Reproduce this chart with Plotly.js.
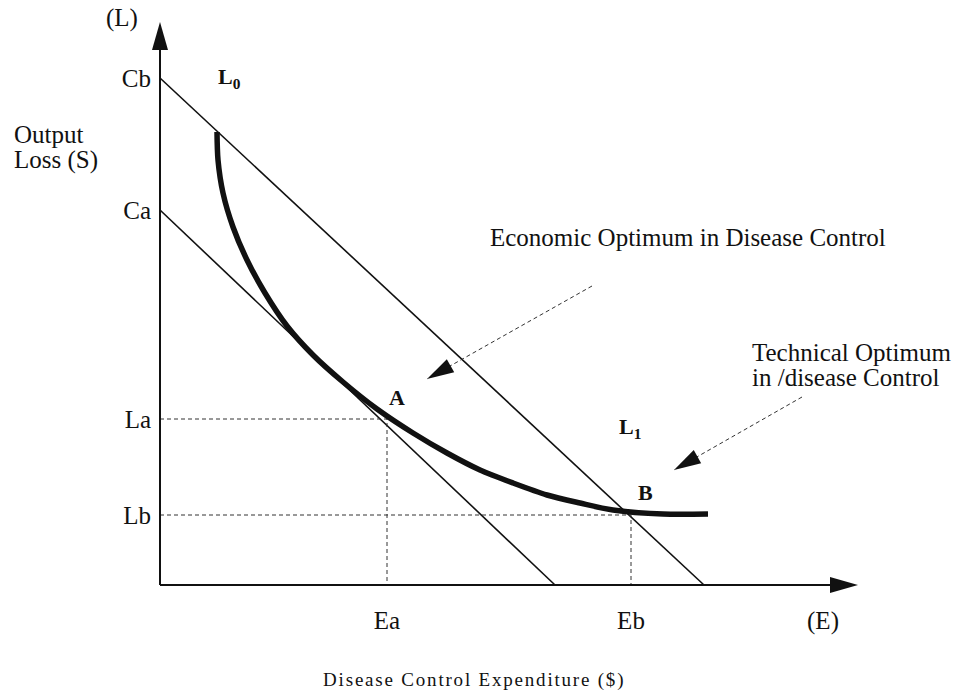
<!DOCTYPE html>
<html>
<head>
<meta charset="utf-8">
<script src="https://cdn.plot.ly/plotly-3.0.1.min.js"></script>
<style>
  html, body { margin: 0; padding: 0; background: #fff; }
  #chart { width: 955px; height: 692px; }
  g.annotation[data-index="10"] text { letter-spacing: 1.8px; }
</style>
</head>
<body>
<div id="chart"></div>
<script>
// ---- Data (E = expenditure, L = output loss) ----
const curveE = [57, 58, 63, 73, 87, 105, 127, 153, 183, 217, 253, 287, 320, 353, 387, 420, 453, 503, 548];
const curveL = [453, 425, 392, 358, 325, 292, 259, 230, 203, 176, 152, 132, 115, 102, 90, 82, 75, 71, 71];

const lineCbE = [0, 544];
const lineCbL = [507, 0];
const lineCaE = [0, 395];
const lineCaL = [375, 0];

const pointA = [227, 166];   // (Ea, La)
const pointB = [471, 70];    // (Eb, Lb)

const yTickVals = [70, 166, 375, 507];
const yTickText = ['Lb', 'La', 'Ca', 'Cb'];
const xTickVals = [227, 471, 663];
const xTickText = ['Ea', 'Eb', '(E)'];

const axisEndE = 698;   // x-axis arrow tip
const axisEndL = 563;   // y-axis arrow tip

const econArrowTail = [432, 299];
const econArrowTip = [267, 206];
const techArrowTail = [642, 188];
const techArrowTip = [514, 115];

// ---- axes ranges ----
const xRange = [-20, 700];
const yRange = [-20, 575];

// ---- helpers ----
function headPath(tail, tip, len, half) {
  const dx = tip[0] - tail[0], dy = tip[1] - tail[1];
  const d = Math.hypot(dx, dy);
  const ux = dx / d, uy = dy / d;
  const bx = tip[0] - ux * len, by = tip[1] - uy * len;
  const px = -uy, py = ux;
  return `M${tip[0]},${tip[1]} L${bx + px * half},${by + py * half} L${bx - px * half},${by - py * half} Z`;
}
const toPX = v => (v - xRange[0]) / (xRange[1] - xRange[0]);
const toPY = v => (v - yRange[0]) / (yRange[1] - yRange[0]);

const black = '#111';
const serif = 'Liberation Serif, Times New Roman, serif';

const traces = [
  { x: lineCbE, y: lineCbL, mode: 'lines', line: { color: black, width: 1.6 }, hoverinfo: 'skip' },
  { x: lineCaE, y: lineCaL, mode: 'lines', line: { color: black, width: 1.6 }, hoverinfo: 'skip' },
  { x: [0, pointA[0], pointA[0]], y: [pointA[1], pointA[1], 0], mode: 'lines',
    line: { color: '#333', width: 1, dash: '4px,3px' }, hoverinfo: 'skip' },
  { x: [0, pointB[0], pointB[0]], y: [pointB[1], pointB[1], 0], mode: 'lines',
    line: { color: '#333', width: 1, dash: '4px,3px' }, hoverinfo: 'skip' },
  { x: curveE, y: curveL, mode: 'lines', line: { color: black, width: 5.5, shape: 'spline', smoothing: 0.8 }, hoverinfo: 'skip' }
];

const shapes = [
  // axes
  { type: 'line', xref: 'x', yref: 'y', x0: 0, y0: 0, x1: axisEndE - 20, y1: 0, line: { color: black, width: 2 } },
  { type: 'line', xref: 'x', yref: 'y', x0: 0, y0: 0, x1: 0, y1: axisEndL - 20, line: { color: black, width: 2 } },
  { type: 'path', xref: 'x', yref: 'y', path: headPath([0, 0], [axisEndE, 0], 28, 8), fillcolor: black, line: { width: 0 } },
  { type: 'path', xref: 'x', yref: 'y', path: headPath([0, 0], [0, axisEndL], 28, 8), fillcolor: black, line: { width: 0 } },
  // dashed pointer arrows
  { type: 'line', xref: 'x', yref: 'y', x0: econArrowTail[0], y0: econArrowTail[1], x1: econArrowTip[0], y1: econArrowTip[1],
    line: { color: '#333', width: 1, dash: '4px,3px' } },
  { type: 'path', xref: 'x', yref: 'y', path: headPath(econArrowTail, econArrowTip, 27, 7.5), fillcolor: black, line: { width: 0 } },
  { type: 'line', xref: 'x', yref: 'y', x0: techArrowTail[0], y0: techArrowTail[1], x1: techArrowTip[0], y1: techArrowTip[1],
    line: { color: '#333', width: 1, dash: '4px,3px' } },
  { type: 'path', xref: 'x', yref: 'y', path: headPath(techArrowTail, techArrowTip, 27, 7.5), fillcolor: black, line: { width: 0 } }
];

const txt = (s, x, y, size, extra) => Object.assign({
  text: s, x: toPX(x), y: toPY(y), xref: 'paper', yref: 'paper', showarrow: false,
  xanchor: 'center', yanchor: 'middle',
  font: { family: serif, size: size, color: black }
}, extra || {});

const annotations = [
  txt('(L)', -38, 567, 25),                                                       // 0
  txt('Output', -148, 451, 25, { xanchor: 'left' }),                              // 1
  txt('Loss (S)', -148, 425, 25, { xanchor: 'left' }),                            // 2
  txt('<b>L<sub>0</sub></b>', 69, 507, 22),                                       // 3
  txt('<b>L<sub>1</sub></b>', 470, 157, 22),                                      // 4
  txt('<b>A</b>', 237, 188, 22),                                                  // 5
  txt('<b>B</b>', 485, 93, 22),                                                   // 6
  txt('Economic Optimum in Disease Control', 328, 348, 25, { xanchor: 'left' }),  // 7
  txt('Technical Optimum', 590, 233, 25, { xanchor: 'left' }),                    // 8
  txt('in /disease Control', 590, 208, 25, { xanchor: 'left' }),                  // 9
  txt('Disease Control Expenditure ($)', 314, -95, 19)                            // 10
];

const layout = {
  width: 955, height: 692,
  margin: { l: 140, r: 95, t: 10, b: 87 },
  paper_bgcolor: '#fff', plot_bgcolor: '#fff',
  showlegend: false,
  xaxis: {
    range: xRange, showgrid: false, zeroline: false, showline: false,
    anchor: 'free', position: toPY(0),
    tickvals: xTickVals, ticktext: xTickText, ticks: '', ticklabelstandoff: 18,
    tickfont: { family: serif, size: 25, color: black }, fixedrange: true
  },
  yaxis: {
    range: yRange, showgrid: false, zeroline: false, showline: false,
    anchor: 'free', position: toPX(0),
    tickvals: yTickVals, ticktext: yTickText, ticks: '', ticklabelstandoff: 9,
    tickfont: { family: serif, size: 25, color: black }, fixedrange: true
  },
  shapes: shapes,
  annotations: annotations
};

Plotly.newPlot('chart', traces, layout, { displayModeBar: false, staticPlot: true });
</script>
</body>
</html>
